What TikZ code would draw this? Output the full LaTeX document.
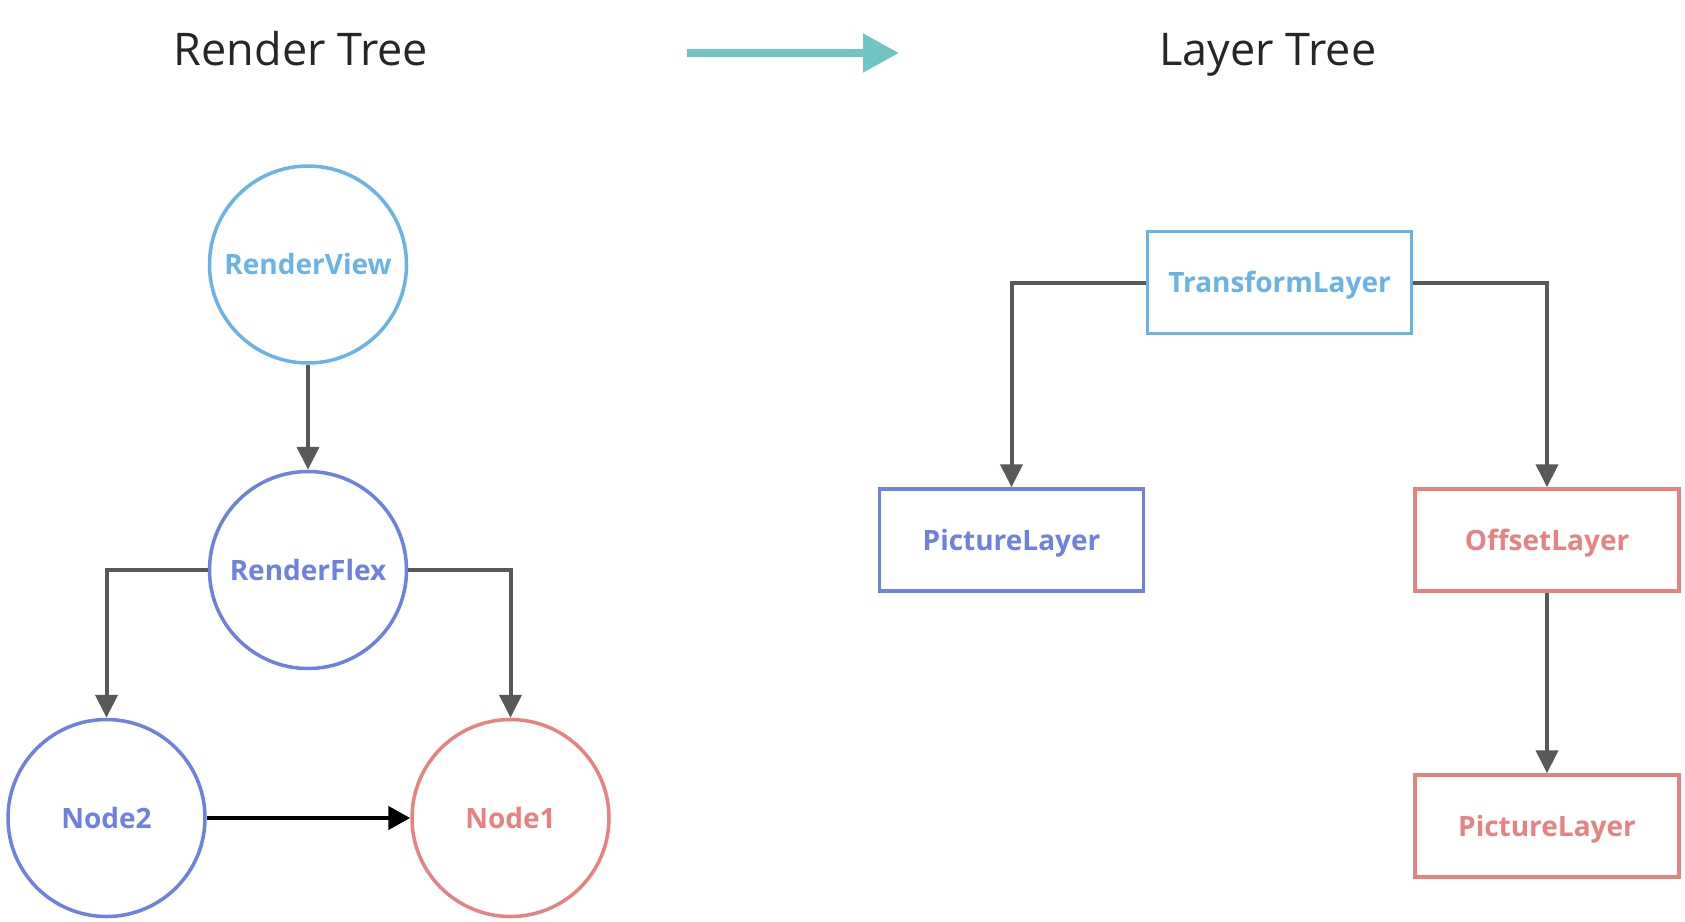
\documentclass[tikz,border=0pt]{standalone}
\usepackage{fontspec}
\setmainfont{Open Sans}
\usetikzlibrary{arrows.meta}
\definecolor{lblue}{HTML}{69B3E7}
\definecolor{violet}{HTML}{6E80E0}
\definecolor{pinkc}{HTML}{E88282}
\definecolor{grayc}{HTML}{595959}
\definecolor{tealc}{HTML}{6EC5C4}
\definecolor{titlec}{HTML}{262626}
\begin{document}
\begin{tikzpicture}[x=1pt,y=-1pt,
  lbl/.style={font=\bfseries\fontsize{28}{28}\selectfont, text height=20pt, text depth=0pt, inner sep=0pt},
  circ/.style={lbl, circle, draw=#1, text=#1, line width=3.5pt, minimum size=197pt},
  boxn/.style={lbl, rectangle, draw=#1, text=#1, line width=3.5pt, minimum width=264pt, minimum height=102pt},
  ttl/.style={font=\fontsize{45}{45}\selectfont, text=titlec, anchor=base, inner sep=0pt},
  conn/.style={draw=grayc, line width=4pt, -{Triangle[width=22pt,length=23pt]}, color=grayc},
  blk/.style={draw=black, line width=4.5pt, -{Triangle[width=23pt,length=22pt]}},
  teal/.style={draw=tealc, line width=8pt, -{Triangle[width=37pt,length=36pt]}, color=tealc}
]
\useasboundingbox (0,0) rectangle (1685,921);
\fill[white] (0,0) rectangle (1685,921);

% titles
\node[ttl] (t1) at (301,65) {Render Tree};
\node[ttl] (t2) at (1268,65) {Layer Tree};
\coordinate (ta) at (687,53);
\coordinate (tb) at (899,53);
\draw[teal] (ta) -- (tb);

% render tree
\node[circ=lblue] (rv) at (308,264.5) {RenderView};
\node[circ=violet] (rf) at (308,570) {RenderFlex};
\node[circ=violet] (n2) at (106.5,818) {Node2};
\node[circ=pinkc] (n1) at (510.5,818) {Node1};

\draw[conn] (rv.south) -- (rf.north);
\draw[conn] (rf.west) -| (n2.north);
\draw[conn] (rf.east) -| (n1.north);
\draw[blk] (n2.east) -- (n1.west);

% layer tree
\node[boxn=lblue] (tl) at (1279.5,282.5) {TransformLayer};
\node[boxn=violet] (pl1) at (1011.5,540) {PictureLayer};
\node[boxn=pinkc] (ol) at (1547,540) {OffsetLayer};
\node[boxn=pinkc] (pl2) at (1547,826) {PictureLayer};

\draw[conn] (tl.west) -| (pl1.north);
\draw[conn] (tl.east) -| (ol.north);
\draw[conn] (ol.south) -- (pl2.north);
\end{tikzpicture}
\end{document}
